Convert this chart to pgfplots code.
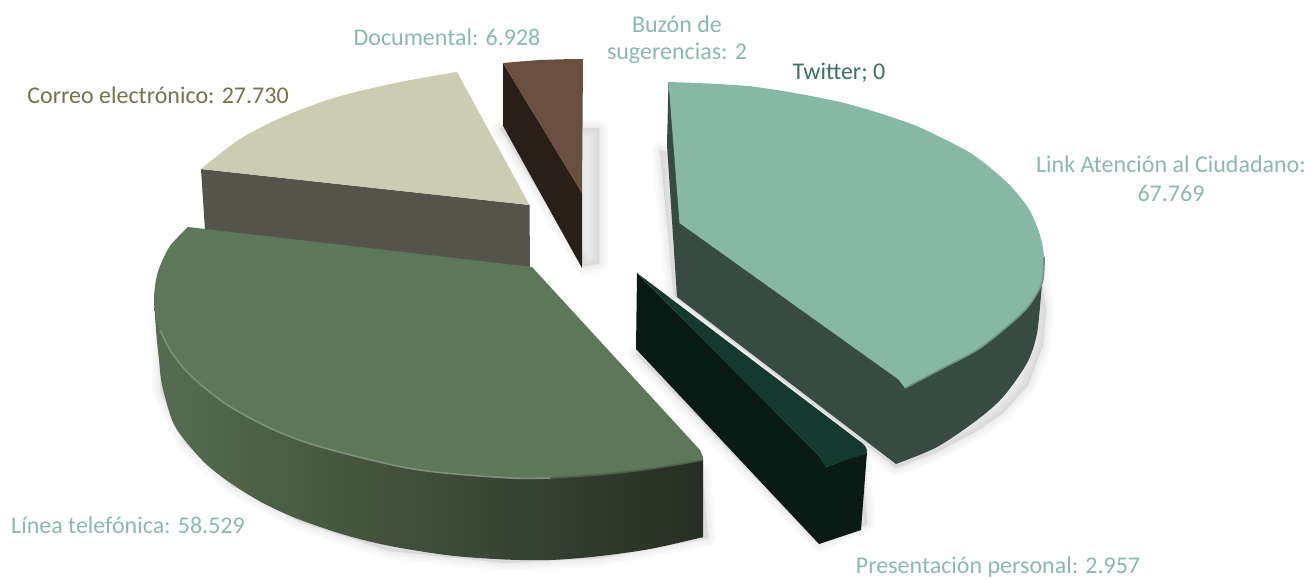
\documentclass[border=0pt]{standalone}
\usepackage{fontspec}
\setmainfont{Carlito}
\usepackage{pgfplots}
\pgfplotsset{compat=1.18}
\definecolor{linktop}{HTML}{87B8A5}
\definecolor{linkside}{HTML}{384B42}
\definecolor{linktext}{HTML}{8BBAA8}
\definecolor{lineatop}{HTML}{5D7858}
\definecolor{lineaL}{HTML}{566C50}
\definecolor{lineaR}{HTML}{272E23}
\definecolor{correotop}{HTML}{CBCCB1}
\definecolor{correoside}{HTML}{54544A}
\definecolor{correotext}{HTML}{737449}
\definecolor{doctop}{HTML}{6A4E40}
\definecolor{docside}{HTML}{2A1E18}
\definecolor{prestop}{HTML}{143A30}
\definecolor{presside}{HTML}{0A1A15}
\definecolor{twittertext}{HTML}{3F7060}
\tikzset{lbl/.style={font=\fontsize{12pt}{14pt}\selectfont, inner sep=0pt, anchor=center}}
% soft shadow: same outline stroked a few times
\newcommand{\softshadow}[1]{%
  \addplot[draw=black,fill=black,line width=9pt,opacity=.012,line join=round] coordinates {#1} -- cycle;
  \addplot[draw=black,fill=black,line width=7pt,opacity=.014,line join=round] coordinates {#1} -- cycle;
  \addplot[draw=black,fill=black,line width=5pt,opacity=.016,line join=round] coordinates {#1} -- cycle;
  \addplot[draw=black,fill=black,line width=3pt,opacity=.018,line join=round] coordinates {#1} -- cycle;
  \addplot[draw=black,fill=black,line width=1pt,opacity=.02,line join=round] coordinates {#1} -- cycle;
}
% one face: smooth rim piece + straight-edged inner piece that overlaps it
\newcommand{\face}[3]{%
  \addplot[smooth,fill=#1,draw=none] coordinates {#2} -- cycle;
  \addplot[fill=#1,draw=none] coordinates {#3} -- cycle;
}
\begin{document}
\begin{tikzpicture}
\begin{axis}[
  scale only axis, width=655.5pt, height=289.5pt,
  xmin=0, xmax=1311, ymin=0, ymax=579, y dir=reverse,
  hide axis, clip=false,
  every axis plot/.append style={no markers}
]
\path (axis cs:0,0) rectangle (axis cs:1311,579);
% shadows
\softshadow{(500,128) (599,128) (599,264) (584,266)}
\softshadow{(660,150) (1040,270) (1046,310) (1043,345) (1028,385) (1003,413) (975,432) (935,453) (896,468) (674,296)}
\softshadow{(636,354) (819,544) (867,524) (862,452) (640,350)}
\softshadow{(159,312) (161,392) (185,443) (232,486) (300,522) (390,551) (505,563) (600,558) (708,538) (702,470) (300,400)}
% Documental
\addplot[fill=docside,draw=none] coordinates {(503,63) (582,193) (582,268) (503,126)} -- cycle;
\addplot[fill=doctop,draw=none] coordinates {(503,63) (520,61.5) (540,60) (560,59.3) (583,59) (582,193)} -- cycle;
% Correo
\addplot[fill=correoside,draw=none] coordinates {(201,169) (529.5,205) (530,268) (205,230)} -- cycle;
\face{correotop}{(457,72) (400,82) (337,97) (285,116) (240,139) (201,169)}{(457,72) (337,97) (201,169) (529.5,205)}
% Link
\face{linkside}{(1044,257) (1042,283) (1037,333) (1027,363) (1003,397) (977,420) (937,447) (896,464)}{(668.5,82) (667,145) (677,297) (896,464) (977,420) (1037,333) (1044,257)}
\face{linktop}{(668.5,82) (752,86.5) (840,102) (906,122) (940,137) (972,154) (1000,176) (1016,192) (1030,211) (1040,235) (1044,257) (1042,283) (1027,308) (1003,330) (977,350) (943,368) (905,388)}{(668.5,82) (840,102) (972,154) (1044,257) (977,350) (905,388) (902,382) (679.5,223)}
\addplot[smooth,draw=linktop!70!linkside,line width=.8pt] coordinates {(1044,257) (1042,283) (1027,308) (1003,330) (977,350) (943,368) (905,388)};
% Presentacion
\addplot[fill=presside,draw=none] coordinates {(637,273) (636,349) (819,544) (861,530) (867,452) (826,467) (820,457)} -- cycle;
\addplot[fill=prestop,draw=none] coordinates {(637,273) (862,443) (865,446) (867,450) (866,454) (846,460) (826,467) (822,462) (820,457)} -- cycle;
% Linea
\addplot[smooth,left color=lineaL,right color=lineaR,draw=none] coordinates {(154,298) (156,330) (159,360) (162,385) (172,420) (183,438) (205,463) (229,482) (262,502.5) (298,519) (345,535) (390,546) (450,555.5) (505,559.5) (550,560) (596,556.5) (650,549) (703,537)} -- cycle;
\addplot[left color=lineaR!27!lineaL,right color=lineaR,draw=none] coordinates {(300,400) (703,460) (703,537) (596,556) (505,559) (390,545) (300,519)} -- cycle;
\face{lineatop}{(703,460) (650,469) (596,475) (550,478) (505,477.7) (413,469) (321,447) (272,429) (229,406) (200,384) (183.5,368) (170,350) (160,330) (156,316) (154,298) (156,280) (160,266) (170,246) (188,227)}{(188,227) (532,267) (700,450) (703,457) (703,460) (505,477.7) (321,447) (183.5,368) (154,298)}
\addplot[smooth,draw=lineatop!80!white,line width=.8pt] coordinates {(160,330) (170,350) (183.5,368) (200,384) (229,406) (272,429) (321,447) (413,469) (505,477.7) (550,478)};
\addplot[smooth,draw=lineatop!70!lineaR,line width=.8pt] coordinates {(550,478) (596,475) (650,469) (703,460)};
% labels
\node[lbl,text=linktext] at (axis cs:447,37) {Documental: 6.928};
\node[lbl,text=linktext] at (axis cs:677,24) {Buzón de};
\node[lbl,text=linktext] at (axis cs:677,53) {sugerencias: 2};
\node[lbl,text=twittertext] at (axis cs:839,73) {Twitter; 0};
\node[lbl,text=correotext] at (axis cs:158,95) {Correo electrónico: 27.730};
\node[lbl,text=linktext] at (axis cs:1171,164) {Link Atención al Ciudadano:};
\node[lbl,text=linktext] at (axis cs:1171,193) {67.769};
\node[lbl,text=linktext] at (axis cs:128,525) {Línea telefónica: 58.529};
\node[lbl,text=linktext] at (axis cs:998,567) {Presentación personal: 2.957};
\end{axis}
\end{tikzpicture}
\end{document}
